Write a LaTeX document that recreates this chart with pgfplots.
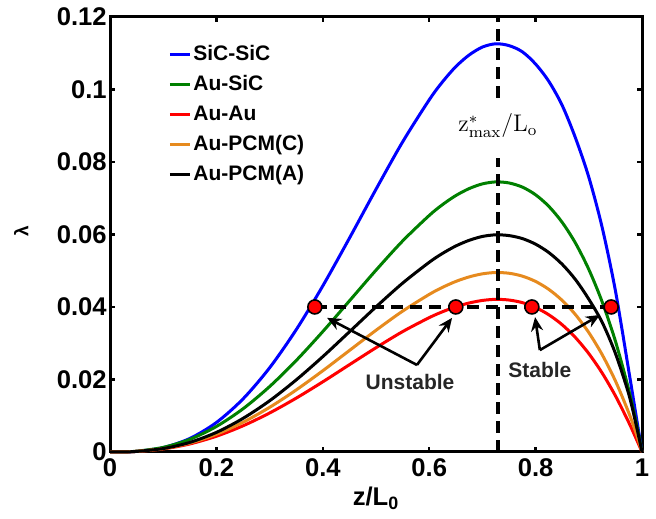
\documentclass[border=0pt]{standalone}
\usepackage[no-math]{fontspec}
\setmainfont{Liberation Sans}
\usepackage{pgfplots}
\usepackage{pgfplotstable}
\pgfplotsset{compat=1.18}
\usetikzlibrary{arrows.meta}

\definecolor{cblue}{RGB}{0,0,255}
\definecolor{cgreen}{RGB}{0,128,0}
\definecolor{cred}{RGB}{255,0,0}
\definecolor{corange}{RGB}{230,138,30}

% lambda vs z/L0
\pgfplotstableread{
z      sic     ausic   auau    pcmc    pcma
0      0       0       0       0       0
0.025  0.00002 0.00003 0.00003 0.00003 0.00002
0.05   0.00016 0.00021 0.00015 0.00016 0.00015
0.1    0.00120 0.00126 0.00083 0.00090 0.00094
0.15   0.00372 0.00348 0.00221 0.00245 0.00264
0.2    0.00813 0.00703 0.00434 0.00488 0.00540
0.25   0.01463 0.01191 0.00721 0.00819 0.00926
0.3    0.02322 0.01804 0.01075 0.01231 0.01412
0.35   0.03373 0.02523 0.01485 0.01711 0.01988
0.4    0.04582 0.03322 0.01935 0.02241 0.02630
0.45   0.05897 0.04167 0.02407 0.02799 0.03314
0.5    0.07247 0.05015 0.02876 0.03357 0.04002
0.55   0.08553 0.05820 0.03320 0.03885 0.04657
0.6    0.09713 0.06524 0.03705 0.04346 0.05232
0.625  0.10210 0.06823 0.03868 0.04541 0.05477
0.65   0.10630 0.07073 0.04005 0.04704 0.05682
0.675  0.10950 0.07265 0.04109 0.04829 0.05838
0.7    0.11170 0.07395 0.04180 0.04914 0.05945
0.725  0.11260 0.07450 0.04210 0.04950 0.05990
0.75   0.11210 0.07421 0.04191 0.04930 0.05969
0.775  0.11040 0.07307 0.04120 0.04851 0.05887
0.8    0.10700 0.07094 0.03985 0.04704 0.05732
0.825  0.10220 0.06773 0.03783 0.04483 0.05499
0.85   0.09560 0.06333 0.03509 0.04180 0.05177
0.875  0.08660 0.05760 0.03154 0.03787 0.04754
0.9    0.07580 0.05036 0.02713 0.03293 0.04214
0.925  0.06200 0.04144 0.02180 0.02688 0.03580
0.95   0.04450 0.03058 0.01550 0.01960 0.02720
0.975  0.02250 0.01720 0.00819 0.01085 0.01600
0.99   0.00900 0.00740 0.00335 0.00473 0.00680
1      0       0       0       0       0
}\lambdadata

\begin{document}
\begin{tikzpicture}
\begin{axis}[
  scale only axis,
  width=266pt, height=217.5pt,
  xmin=0, xmax=1, ymin=0, ymax=0.12,
  xtick={0,0.2,...,1}, ytick={0,0.02,...,0.12},
  scaled y ticks=false,
  yticklabel style={/pgf/number format/fixed, inner xsep=1.5pt},
  /pgf/number format/assume math mode=true,
  tick label style={font=\bfseries\fontsize{12.8}{14}\selectfont},
  tick align=inside, major tick length=2.5pt,
  tick style={black, line width=1.2pt},
  axis line style={line width=1.5pt},
  xlabel={\bfseries\fontsize{12.8}{14}\selectfont z/L\textsubscript{0}},
  ylabel={\bfseries\fontsize{9.5}{11}\selectfont λ},
  ylabel style={at={(axis description cs:-0.167,0.508)}, anchor=center},
  xlabel style={yshift=2pt},
  legend style={draw=none, fill=none, at={(axis description cs:0.109,0.94)},
    anchor=north west, font=\bfseries\fontsize{10.5}{12}\selectfont,
    row sep=3.95pt, inner sep=0pt, nodes={inner sep=1pt}},
  legend cell align=left,
  legend image code/.code={\draw[#1] (0pt,0pt) -- (10pt,0pt);},
  every axis plot/.append style={line width=1.5pt},
  clip=false,
]
\path (rel axis cs:-0.2068,-0.154) rectangle (rel axis cs:1.0263,1.039);

\addplot[cblue, smooth]   table[x=z, y=sic]   {\lambdadata};
\addlegendentry{SiC-SiC}
\addplot[cgreen, smooth]  table[x=z, y=ausic] {\lambdadata};
\addlegendentry{Au-SiC}
\addplot[cred, smooth]    table[x=z, y=auau]  {\lambdadata};
\addlegendentry{Au-Au}
\addplot[corange, smooth] table[x=z, y=pcmc]  {\lambdadata};
\addlegendentry{Au-PCM(C)}
\addplot[black, smooth]   table[x=z, y=pcma]  {\lambdadata};
\addlegendentry{Au-PCM(A)}

% z*max marker line with a gap for its label
\draw[black, line width=2pt, dash pattern=on 6pt off 3.5pt]
  (axis cs:0.729,0) -- (axis cs:0.729,0.0811);
\draw[black, line width=2pt, dash pattern=on 6pt off 3.5pt]
  (axis cs:0.729,0.0977) -- (axis cs:0.729,0.12);
\node[font=\fontsize{11.5}{12}\selectfont] at (axis cs:0.729,0.0900)
  {$\mathrm{z}^{*}_{\mathrm{max}}/\mathrm{L}_{\mathrm{o}}$};

% lambda = 0.04 level
\draw[black, line width=2pt, dash pattern=on 6pt off 3.5pt]
  (axis cs:0.385,0.04) -- (axis cs:0.942,0.04);

\addplot[only marks, mark=*, mark size=3.5pt, mark options={fill=cred, draw=black, line width=0.8pt}, forget plot]
  coordinates {(0.385,0.04) (0.650,0.04) (0.793,0.04) (0.942,0.04)};

% annotations
\draw[black, line width=1.3pt, -{Stealth[length=7pt, width=6pt]}]
  (axis cs:0.577,0.0240) -- (axis cs:0.408,0.0370);
\draw[black, line width=1.3pt, -{Stealth[length=7pt, width=6pt]}]
  (axis cs:0.577,0.0240) -- (axis cs:0.643,0.0370);
\node[font=\bfseries\fontsize{10.5}{12}\selectfont, text=black!85] at (axis cs:0.564,0.0193) {Unstable};
\draw[black, line width=1.3pt, -{Stealth[length=7pt, width=6pt]}]
  (axis cs:0.808,0.0281) -- (axis cs:0.799,0.0372);
\draw[black, line width=1.3pt, -{Stealth[length=7pt, width=6pt]}]
  (axis cs:0.808,0.0281) -- (axis cs:0.921,0.0378);
\node[font=\bfseries\fontsize{10.5}{12}\selectfont, text=black!85] at (axis cs:0.808,0.0226) {Stable};
\end{axis}
\end{tikzpicture}
\end{document}
